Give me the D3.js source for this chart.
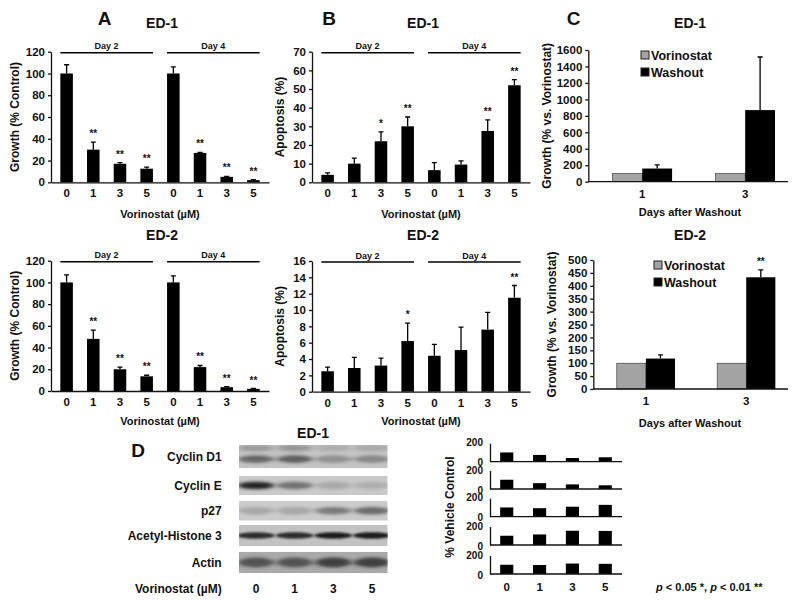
<!DOCTYPE html>
<html>
<head>
<meta charset="utf-8">
<script src="https://cdn.jsdelivr.net/npm/d3@7/dist/d3.min.js"></script>
<style>
  body { margin: 0; background: #fff; }
  svg { font-family: "Liberation Sans", Arial, sans-serif; font-weight: bold; }
  .axis text { font-family: "Liberation Sans", Arial, sans-serif; font-size: 11.5px; font-weight: bold; fill: #111; }
  .axis path, .axis line { stroke: #111; stroke-width: 1.3; }
  .axis.mini text { font-size: 10px; }
</style>
</head>
<body>
<div id="chart"></div>
<script>
// Vorinostat dose-response figure: growth (A), apoptosis (B), washout (C), blots + quantification (D).
const doses = ["0", "1", "3", "5"];
const days = ["Day 2", "Day 4"];

const growthED1 = [100, 30, 17, 12.5, 100, 27, 5, 2];
const growthED1Err = [8, 7, 1, 1.5, 6, 0.5, 0.5, 0.5];
const growthED1Stars = ["", "**", "**", "**", "", "**", "**", "**"];
const growthED2 = [100, 48, 20, 13.5, 100, 22, 3.5, 2];
const growthED2Err = [7, 8, 2, 1, 6, 1.5, 0.5, 0.3];
const growthED2Stars = ["", "**", "**", "**", "", "**", "**", "**"];
const growthTicks = [0, 20, 40, 60, 80, 100, 120];

const apopED1 = [4, 10, 22, 30, 6.5, 9.5, 27.5, 52];
const apopED1Err = [1, 3, 5, 5, 4, 2, 6, 3];
const apopED1Stars = ["", "", "*", "**", "", "", "**", "**"];
const apopED1Ticks = [0, 10, 20, 30, 40, 50, 60, 70];
const apopED2 = [2.5, 2.9, 3.2, 6.2, 4.4, 5.1, 7.6, 11.5];
const apopED2Err = [0.5, 1.3, 0.9, 2.2, 1.4, 2.8, 2.1, 1.5];
const apopED2Stars = ["", "", "", "*", "", "", "", "**"];
const apopED2Ticks = [0, 2, 4, 6, 8, 10, 12, 14, 16];

const washDays = ["1", "3"];
const washSeries = ["Vorinostat", "Washout"];
const washED1Vor = [100, 100];
const washED1Wash = [160, 870];
const washED1Err = [45, 645];
const washED1Stars = ["", ""];
const washED1Ticks = [0, 200, 400, 600, 800, 1000, 1200, 1400, 1600];
const washED2Vor = [100, 100];
const washED2Wash = [118, 433];
const washED2Err = [14, 29];
const washED2Stars = ["", "**"];
const washED2Ticks = [0, 50, 100, 150, 200, 250, 300, 350, 400, 450, 500];

const proteins = ["Cyclin D1", "Cyclin E", "p27", "Acetyl-Histone 3", "Actin"];
const bandDarkness = [
  [0.55, 0.6, 0.3, 0.35],
  [0.95, 0.5, 0.18, 0.15],
  [0.2, 0.2, 0.45, 0.55],
  [0.9, 0.9, 1.0, 1.0],
  [0.6, 0.6, 0.75, 0.75]
];
const quant = [
  [100, 73, 40, 48],
  [100, 63, 50, 40],
  [100, 92, 108, 128],
  [100, 114, 154, 152],
  [100, 97, 113, 110]
];
const quantTicks = [0, 200];

const W = 800, H = 601;
const svg = d3.select("#chart").append("svg").attr("width", W).attr("height", H);

function text(x, y, s, size, anchor = "middle") {
  return svg.append("text").attr("x", x).attr("y", y).attr("text-anchor", anchor)
    .attr("font-size", size).attr("fill", "#111").text(s);
}

// Panels A & B: 8 bars split into Day 2 / Day 4 groups
function dosePanel({ x0, x1, yTop, yBase, max, ticks, values, errs, stars, title, titleY, xTitleY, yTitle, yTitleX }) {
  const x = d3.scaleBand().domain(d3.range(8)).range([x0, x1]).paddingInner(0.53).paddingOuter(0.35);
  const y = d3.scaleLinear().domain([0, max]).range([yBase, yTop]);
  const g = svg.append("g");

  g.selectAll("rect.bar").data(values).join("rect")
    .attr("x", (_, i) => x(i)).attr("width", x.bandwidth())
    .attr("y", d => y(d)).attr("height", d => yBase - y(d)).attr("fill", "#000");
  const cx = i => x(i) + x.bandwidth() / 2;
  g.selectAll("path.err").data(values).join("path")
    .attr("d", (d, i) => `M${cx(i)},${y(d)}V${y(d + errs[i])}M${cx(i) - 2.5},${y(d + errs[i])}H${cx(i) + 2.5}`)
    .attr("stroke", "#000").attr("stroke-width", 1.3).attr("fill", "none");
  g.selectAll("text.star").data(values).join("text")
    .attr("x", (_, i) => cx(i)).attr("y", (d, i) => y(d + errs[i]) - 5)
    .attr("text-anchor", "middle").attr("font-size", 10).attr("fill", "#111")
    .text((_, i) => stars[i]);

  g.append("g").attr("class", "axis").attr("transform", `translate(${x0},0)`)
    .call(d3.axisLeft(y).tickValues(ticks).tickSize(3).tickSizeOuter(0).tickPadding(3));
  g.append("g").attr("class", "axis").attr("transform", `translate(0,${yBase})`)
    .call(d3.axisBottom(x).tickSize(0).tickPadding(7).tickFormat(i => doses[i % 4]));

  days.forEach((d, k) => {
    const a = x(k * 4), b = x(k * 4 + 3) + x.bandwidth();
    g.append("line").attr("x1", a).attr("x2", b).attr("y1", yTop + 1).attr("y2", yTop + 1)
      .attr("stroke", "#000").attr("stroke-width", 1.6);
    g.append("text").attr("x", (a + b) / 2).attr("y", yTop - 2.5).attr("text-anchor", "middle")
      .attr("font-size", 9).attr("fill", "#111").text(d);
  });

  const mid = (x0 + x1) / 2;
  text(mid + 2, titleY, title, 14);
  text(mid, xTitleY, "Vorinostat (µM)", 11);
  svg.append("text").attr("transform", `translate(${yTitleX},${(yTop + yBase) / 2}) rotate(-90)`)
    .attr("text-anchor", "middle").attr("font-size", 12).attr("fill", "#111").text(yTitle);
}

dosePanel({ x0: 51, x1: 269, yTop: 51.7, yBase: 182.3, max: 120, ticks: growthTicks,
  values: growthED1, errs: growthED1Err, stars: growthED1Stars, title: "ED-1", titleY: 28, xTitleY: 218,
  yTitle: "Growth (% Control)", yTitleX: 19 });
dosePanel({ x0: 51, x1: 269, yTop: 260.7, yBase: 391, max: 120, ticks: growthTicks,
  values: growthED2, errs: growthED2Err, stars: growthED2Stars, title: "ED-2", titleY: 240, xTitleY: 425,
  yTitle: "Growth (% Control)", yTitleX: 19 });
dosePanel({ x0: 312, x1: 530, yTop: 51.7, yBase: 182.3, max: 70, ticks: apopED1Ticks,
  values: apopED1, errs: apopED1Err, stars: apopED1Stars, title: "ED-1", titleY: 28, xTitleY: 218,
  yTitle: "Apoptosis (%)", yTitleX: 284 });
dosePanel({ x0: 312, x1: 530, yTop: 261, yBase: 391.7, max: 16, ticks: apopED2Ticks,
  values: apopED2, errs: apopED2Err, stars: apopED2Stars, title: "ED-2", titleY: 240, xTitleY: 425,
  yTitle: "Apoptosis (%)", yTitleX: 284 });

// Panel C: grouped bars vs. days after washout
function washPanel({ x0, yTop, yBase, max, ticks, vor, wash, errs, stars, title, titleY, xTitleY, legendX, legendY }) {
  const x1 = 788;
  const x = d3.scaleBand().domain(washDays).range([x0, x1]).paddingInner(0.42).paddingOuter(0.18).align(0.65);
  const xs = d3.scaleBand().domain(washSeries).range([0, x.bandwidth()]);
  const y = d3.scaleLinear().domain([0, max]).range([yBase, yTop]);
  const g = svg.append("g");
  const rows = washDays.map((d, i) => ({ d, vor: vor[i], wash: wash[i], err: errs[i], star: stars[i] }));

  g.selectAll("rect.vor").data(rows).join("rect")
    .attr("x", r => x(r.d) + xs("Vorinostat")).attr("width", xs.bandwidth())
    .attr("y", r => y(r.vor)).attr("height", r => yBase - y(r.vor))
    .attr("fill", "#a3a3a3").attr("stroke", "#333").attr("stroke-width", 0.6);
  g.selectAll("rect.wash").data(rows).join("rect")
    .attr("x", r => x(r.d) + xs("Washout")).attr("width", xs.bandwidth())
    .attr("y", r => y(r.wash)).attr("height", r => yBase - y(r.wash)).attr("fill", "#000");
  const cx = r => x(r.d) + xs("Washout") + xs.bandwidth() / 2;
  g.selectAll("path.err").data(rows).join("path")
    .attr("d", r => `M${cx(r)},${y(r.wash)}V${y(r.wash + r.err)}M${cx(r) - 2.5},${y(r.wash + r.err)}H${cx(r) + 2.5}`)
    .attr("stroke", "#000").attr("stroke-width", 1.3).attr("fill", "none");
  g.selectAll("text.star").data(rows).join("text")
    .attr("x", cx).attr("y", r => y(r.wash + r.err) - 5).attr("text-anchor", "middle")
    .attr("font-size", 10).attr("fill", "#111").text(r => r.star);

  g.append("g").attr("class", "axis").attr("transform", `translate(${x0},0)`)
    .call(d3.axisLeft(y).tickValues(ticks).tickFormat(d3.format("d")).tickSize(3).tickSizeOuter(0).tickPadding(3));
  g.append("g").attr("class", "axis").attr("transform", `translate(0,${yBase})`)
    .call(d3.axisBottom(x).tickSize(0).tickPadding(8))
    .select(".domain").attr("d", `M${x0},0H${x1}`);

  const lg = g.selectAll("g.leg").data(washSeries).join("g")
    .attr("transform", (_, i) => `translate(${legendX},${legendY + i * 17})`);
  lg.append("rect").attr("x", -4).attr("y", -4).attr("width", 8).attr("height", 8)
    .attr("fill", (_, i) => i ? "#000" : "#a3a3a3").attr("stroke", "#222").attr("stroke-width", 1);
  lg.append("text").attr("x", 6).attr("y", 4.5).attr("font-size", 12.5).attr("fill", "#111").text(d => d);

  text(690, titleY, title, 14);
  text(690, xTitleY, "Days after Washout", 11);
  svg.append("text").attr("transform", `translate(${x0 - 37},${(yTop + yBase) / 2}) rotate(-90)`)
    .attr("text-anchor", "middle").attr("font-size", 12).attr("fill", "#111").text("Growth (% vs. Vorinostat)");
}

washPanel({ x0: 588.3, yTop: 50, yBase: 181.7, max: 1600, ticks: washED1Ticks,
  vor: washED1Vor, wash: washED1Wash, errs: washED1Err, stars: washED1Stars, title: "ED-1",
  titleY: 28, xTitleY: 216, legendX: 645, legendY: 55 });
washPanel({ x0: 593.3, yTop: 260, yBase: 389, max: 500, ticks: washED2Ticks,
  vor: washED2Vor, wash: washED2Wash, errs: washED2Err, stars: washED2Stars, title: "ED-2",
  titleY: 240, xTitleY: 427, legendX: 658, legendY: 265 });

// Panel letters
text(104.5, 25, "A", 19);
text(329, 25, "B", 19);
text(573.5, 25, "C", 19);
text(138, 456.5, "D", 19);

// Panel D: western blot strips
const blotBoxes = [[445, 468.3], [476, 495], [500.7, 520.7], [525, 546], [551.7, 573.3]];
const blotBg = ["#c4c4c4", "#c9c9c9", "#cbcbcb", "#c2c2c2", "#a9a9a9"];
const lane = d3.scalePoint().domain(doses).range([256, 372]);
const defs = svg.append("defs");
defs.append("filter").attr("id", "blur").attr("x", "-30%").attr("y", "-100%").attr("width", "160%").attr("height", "300%")
  .append("feGaussianBlur").attr("stdDeviation", "3 1.6");
defs.append("filter").attr("id", "blur2").attr("x", "-30%").attr("y", "-100%").attr("width", "160%").attr("height", "300%")
  .append("feGaussianBlur").attr("stdDeviation", "1.5 0.9");

text(313, 438, "ED-1", 14);
proteins.forEach((p, r) => {
  const [t, b] = blotBoxes[r];
  const clipId = `clip${r}`;
  defs.append("clipPath").attr("id", clipId).append("rect")
    .attr("x", 239).attr("y", t).attr("width", 148.7).attr("height", b - t);
  const g = svg.append("g").attr("clip-path", `url(#${clipId})`);
  g.append("rect").attr("x", 239).attr("y", t).attr("width", 148.7).attr("height", b - t).attr("fill", blotBg[r]);
  const mid = (t + b) / 2 + (r === 0 ? 2.5 : 0);
  const sharp = r === 3;
  g.selectAll("ellipse").data(bandDarkness[r]).join("ellipse")
    .attr("cx", (_, i) => lane(doses[i])).attr("cy", mid)
    .attr("rx", sharp ? 19 : 18).attr("ry", sharp ? 3.2 : (r === 4 ? 5 : 3.8))
    .attr("fill", "#1a1a1a").attr("opacity", d => d)
    .attr("filter", sharp ? "url(#blur2)" : "url(#blur)");
  if (r === 0) {
    // faint upper band of Cyclin D1
    g.selectAll("ellipse.up").data(bandDarkness[r]).join("ellipse").attr("class", "up")
      .attr("cx", (_, i) => lane(doses[i])).attr("cy", t + 3)
      .attr("rx", 18).attr("ry", 3.5).attr("fill", "#333").attr("opacity", d => d * 0.5)
      .attr("filter", "url(#blur)");
  }
  text(221.7, (t + b) / 2 + 4.5, p, 12, "end");
});
text(221.7, 593, "Vorinostat (µM)", 12, "end");
svg.selectAll("text.lane").data(doses).join("text").attr("class", "lane")
  .attr("x", d => lane(d)).attr("y", 593).attr("text-anchor", "middle")
  .attr("font-size", 12).attr("fill", "#111").text(d => d);

// Panel D: densitometry mini bar charts
const qx = d3.scaleBand().domain(doses).range([490, 622]).paddingInner(0.6).paddingOuter(0.31);
const qBases = [461.7, 489, 516.7, 545, 574];
quant.forEach((vals, r) => {
  const base = qBases[r];
  const y = d3.scaleLinear().domain([0, 200]).range([base, base - 18.5]);
  const g = svg.append("g");
  g.selectAll("rect").data(vals).join("rect")
    .attr("x", (_, i) => qx(doses[i])).attr("width", qx.bandwidth())
    .attr("y", d => y(d)).attr("height", d => base - y(d)).attr("fill", "#000");
  g.append("g").attr("class", "axis mini").attr("transform", "translate(490,0)")
    .call(d3.axisLeft(y).tickValues(quantTicks).tickSize(0).tickPadding(7))
    .selectAll(".tick text").attr("dy", d => d === 0 ? "0.42em" : "0.25em");
  g.append("line").attr("x1", 490).attr("x2", 622).attr("y1", base).attr("y2", base)
    .attr("stroke", "#111").attr("stroke-width", 1.3);
});
svg.selectAll("text.qx").data(doses).join("text").attr("class", "qx")
  .attr("x", d => qx(d) + qx.bandwidth() / 2).attr("y", 591).attr("text-anchor", "middle")
  .attr("font-size", 11.5).attr("fill", "#111").text(d => d);
svg.append("text").attr("transform", "translate(454,507) rotate(-90)")
  .attr("text-anchor", "middle").attr("font-size", 12).attr("fill", "#111").text("% Vehicle Control");

// significance note
const note = svg.append("text").attr("x", 656).attr("y", 591).attr("font-size", 11).attr("fill", "#111");
note.append("tspan").attr("font-style", "italic").text("p");
note.append("tspan").text(" < 0.05 *, ");
note.append("tspan").attr("font-style", "italic").text("p");
note.append("tspan").text(" < 0.01 **");
</script>
</body>
</html>
